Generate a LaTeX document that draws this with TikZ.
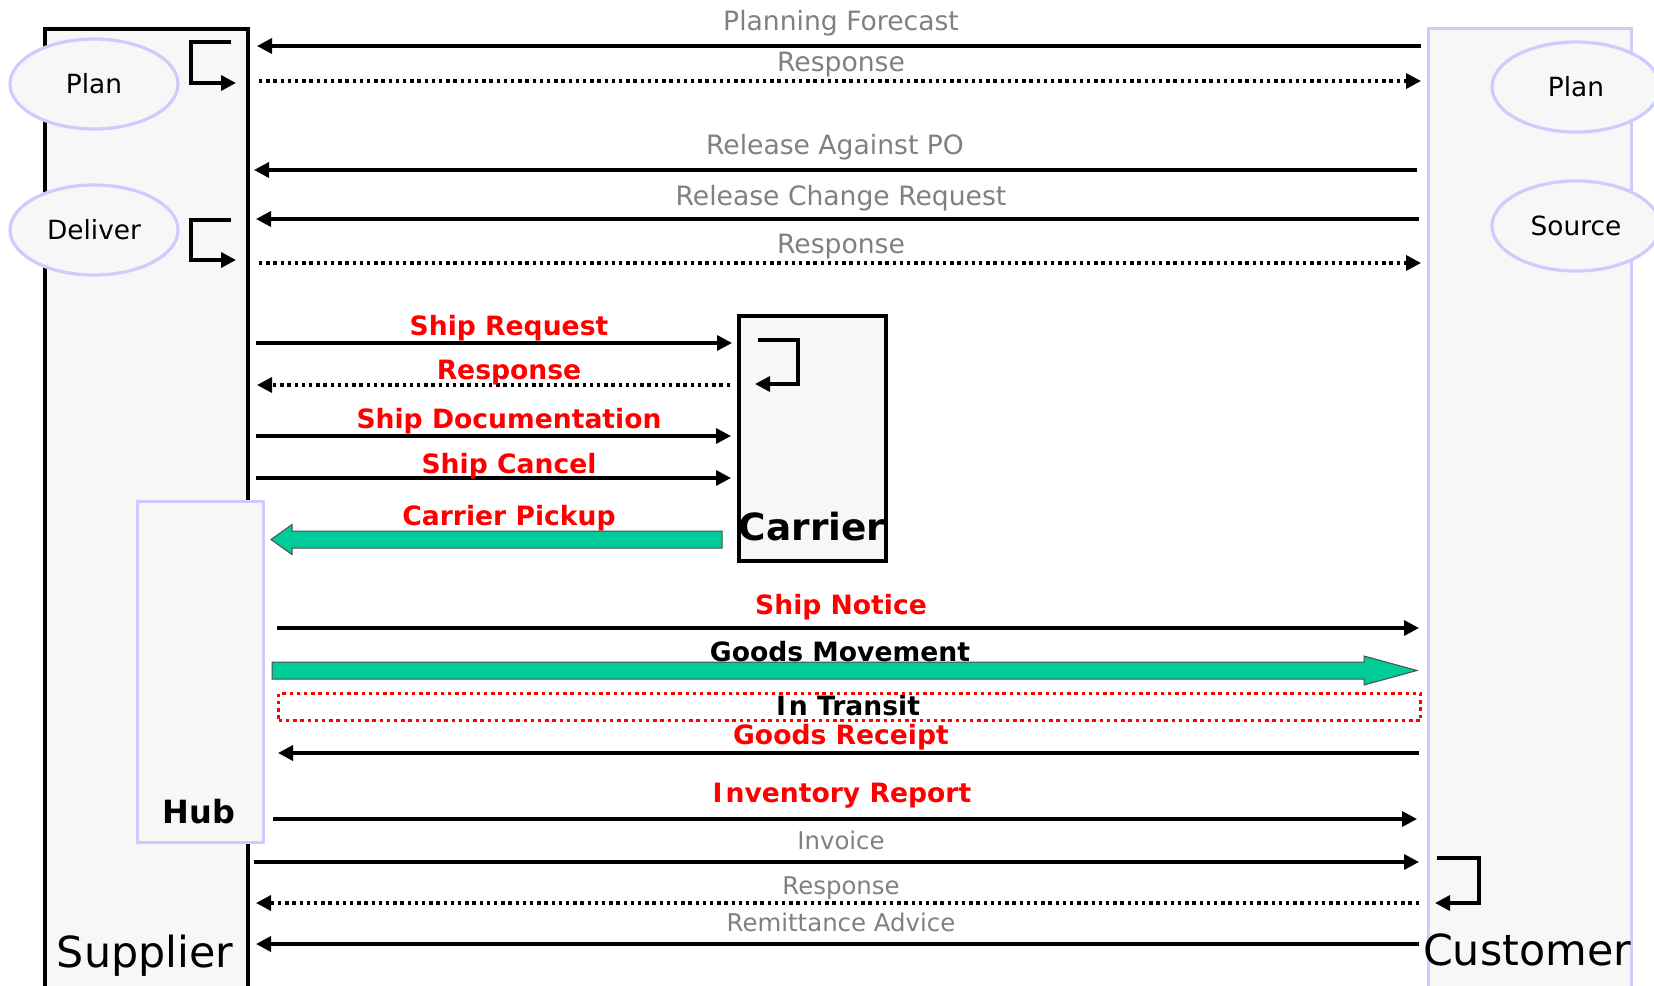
\documentclass[tikz,border=0pt]{standalone}
\usepackage{fontspec}
\setmainfont{DejaVu Sans}
\usetikzlibrary{arrows.meta,shapes.geometric}
\definecolor{boxfill}{HTML}{F7F7F7}
\definecolor{lav}{HTML}{CCCCFF}
\definecolor{gtext}{HTML}{808080}
\definecolor{grn}{HTML}{00CC99}
\definecolor{rd}{HTML}{FF0000}
\begin{document}
\begin{tikzpicture}[x=0.5pt,y=-0.5pt,
  msg/.style={line width=1.7pt,-{Triangle[length=7.5pt,width=7.5pt]}},
  reply/.style={msg,dash pattern=on 1.7pt off 1.9pt},
  glbl/.style={font=\fontsize{13.3}{15}\selectfont,text=gtext,anchor=base,inner sep=0pt},
  sglbl/.style={glbl,font=\fontsize{12.2}{14}\selectfont},
  rlbl/.style={font=\bfseries\fontsize{13.3}{15}\selectfont,text=rd,anchor=base,inner sep=0pt},
  klbl/.style={font=\bfseries\fontsize{13.3}{15}\selectfont,text=black,anchor=base,inner sep=0pt},
  lifebox/.style={rectangle,fill=boxfill,line width=2pt,anchor=north west,inner sep=0pt},
  proc/.style={ellipse,draw=lav,fill=boxfill,line width=1.6pt,minimum width=84pt,minimum height=45pt,inner sep=0pt,font=\fontsize{13.2}{15}\selectfont},
  bigarrow/.style={draw=black!70,line width=0.5pt,fill=grn},
  title/.style={font=\fontsize{21.4}{24}\selectfont,anchor=base,inner sep=0pt}
]
\useasboundingbox (0,0) rectangle (1654,985);
\clip (0,0) rectangle (1654,985);
% lifelines
\node[lifebox,draw=black,minimum width=101.5pt,minimum height=490pt] (supplier) at (43,27) {};
\node[lifebox,draw=lav,line width=1.7pt,minimum width=101.5pt,minimum height=490pt] (customer) at (1427,27) {};
\node[lifebox,draw=black,minimum width=73.5pt,minimum height=122.5pt] (carrier) at (737,314) {};
\node[lifebox,draw=lav,line width=1.7pt,minimum width=63pt,minimum height=170.5pt] (hub) at (136,500) {};
% processes
\node[proc] (splan) at (94,84) {Plan};
\node[proc] (sdeliver) at (94,230) {Deliver};
\node[proc] (cplan) at (1576,87) {Plan};
\node[proc] (csource) at (1576,226) {Source};
% titles
\node[title] (suplbl) at (145,967) {Supplier};
\node[title] (cuslbl) at (1527,965) {Customer};
\node[title,font=\bfseries\fontsize{18.7}{22}\selectfont] (carlbl) at (812,540) {Carrier};
\node[font=\bfseries\fontsize{16}{18}\selectfont,anchor=base,inner sep=0pt] (hublbl) at (199,823) {Hub};
% coordinates
\coordinate (pf1) at (1421,46);   \coordinate (pf2) at (257,46);
\coordinate (r1a) at (259,81);    \coordinate (r1b) at (1421,81);
\coordinate (ra1) at (1417,170);  \coordinate (ra2) at (254,170);
\coordinate (rc1) at (1419,219);  \coordinate (rc2) at (256,219);
\coordinate (r2a) at (259,263);   \coordinate (r2b) at (1421,263);
\coordinate (sr1) at (256,343);   \coordinate (sr2) at (732,343);
\coordinate (cr1) at (730,385);   \coordinate (cr2) at (257,385);
\coordinate (sd1) at (256,436);   \coordinate (sd2) at (731,436);
\coordinate (sc1) at (256,478);   \coordinate (sc2) at (731,478);
\coordinate (sn1) at (277,628);   \coordinate (sn2) at (1419,628);
\coordinate (gr1) at (1419,753);  \coordinate (gr2) at (278,753);
\coordinate (ir1) at (273,819);   \coordinate (ir2) at (1417,819);
\coordinate (iv1) at (254,862);   \coordinate (iv2) at (1419,862);
\coordinate (r3a) at (1419,903);  \coordinate (r3b) at (256,903);
\coordinate (rm1) at (1419,944);  \coordinate (rm2) at (256,944);
% messages
\draw[msg] (pf1) -- (pf2);
\draw[reply] (r1a) -- (r1b);
\draw[msg] (ra1) -- (ra2);
\draw[msg] (rc1) -- (rc2);
\draw[reply] (r2a) -- (r2b);
\draw[msg] (sr1) -- (sr2);
\draw[reply] (cr1) -- (cr2);
\draw[msg] (sd1) -- (sd2);
\draw[msg] (sc1) -- (sc2);
\draw[msg] (sn1) -- (sn2);
\draw[msg] (gr1) -- (gr2);
\draw[msg] (ir1) -- (ir2);
\draw[msg] (iv1) -- (iv2);
\draw[reply] (r3a) -- (r3b);
\draw[msg] (rm1) -- (rm2);
% self loops
\draw[msg] (231,42) -| (191,83) -- (236,83);
\draw[msg] (231,220) -| (191,260) -- (236,260);
\draw[msg] (758,340) -| (798,384) -- (755,384);
\draw[msg] (1437,858) -| (1479,903) -- (1435,903);
% big arrows
\draw[bigarrow] (271,539.5) -- (292,524.5) -- (292,531) -- (722,531) -- (722,548) -- (292,548) -- (292,554.5) -- cycle;
\draw[bigarrow] (1417,670.5) -- (1364,656) -- (1364,662) -- (272,662) -- (272,679) -- (1364,679) -- (1364,685) -- cycle;
% in transit
\node[draw=rd,line width=1.7pt,dash pattern=on 1.7pt off 1.9pt,rectangle,inner sep=0pt,minimum width=571pt,minimum height=13.5pt,anchor=north west] (transit) at (277,692) {};
% labels
\node[glbl] at (841,30) {Planning Forecast};
\node[glbl] at (841,71) {Response};
\node[glbl] at (835,154) {Release Against PO};
\node[glbl] at (841,205) {Release Change Request};
\node[glbl] at (841,253) {Response};
\node[rlbl] at (509,335) {Ship Request};
\node[rlbl] at (509,379) {Response};
\node[rlbl] at (509,428) {Ship Documentation};
\node[rlbl] at (509,473) {Ship Cancel};
\node[rlbl] at (509,525) {Carrier Pickup};
\node[rlbl] at (841,614) {Ship Notice};
\node[klbl] at (840,661) {Goods Movement};
\node[klbl] at (848,715) {I\kern1.5pt n Transit};
\node[rlbl] at (841,744) {Goods Receipt};
\node[rlbl] at (842,802) {I\kern1.5pt nventory Report};
\node[sglbl] at (841,849) {Invoice};
\node[sglbl] at (841,894) {Response};
\node[sglbl] at (841,931) {Remittance Advice};
\end{tikzpicture}
\end{document}
